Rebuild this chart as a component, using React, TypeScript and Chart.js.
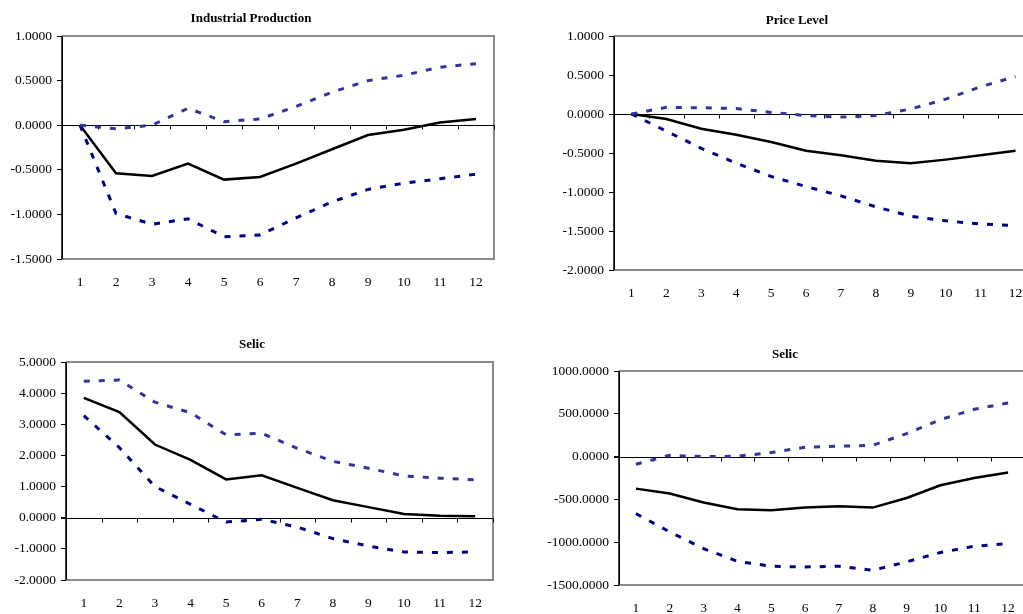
import React, { useEffect, useRef } from "react";
import { Chart, registerables } from "chart.js";

Chart.register(...registerables);

const categories = ["1", "2", "3", "4", "5", "6", "7", "8", "9", "10", "11", "12"];

const ipResponse = [0, -0.54, -0.57, -0.43, -0.61, -0.58, -0.43, -0.27, -0.11, -0.05, 0.03, 0.07];
const ipUpper = [0, -0.04, 0.0, 0.19, 0.04, 0.07, 0.21, 0.37, 0.5, 0.56, 0.65, 0.69];
const ipLower = [0, -0.99, -1.11, -1.05, -1.25, -1.23, -1.04, -0.86, -0.72, -0.65, -0.6, -0.55];

const priceResponse = [0, -0.065, -0.19, -0.265, -0.36, -0.47, -0.53, -0.6, -0.63, -0.585, -0.53, -0.47];
const priceUpper = [0, 0.085, 0.08, 0.07, 0.02, -0.02, -0.04, -0.02, 0.065, 0.19, 0.35, 0.48];
const priceLower = [0, -0.22, -0.44, -0.63, -0.8, -0.93, -1.05, -1.19, -1.31, -1.37, -1.41, -1.43];

const selicResponse = [3.85, 3.39, 2.35, 1.86, 1.23, 1.36, 0.96, 0.56, 0.34, 0.12, 0.06, 0.05];
const selicUpper = [4.38, 4.42, 3.71, 3.37, 2.66, 2.71, 2.23, 1.81, 1.59, 1.34, 1.27, 1.22];
const selicLower = [3.28, 2.25, 1.0, 0.43, -0.14, -0.05, -0.3, -0.67, -0.91, -1.1, -1.12, -1.1];

const selic2Response = [-374, -432, -537, -615, -627, -596, -580, -596, -483, -335, -249, -187];
const selic2Upper = [-90, 16, 0, 4, 47, 109, 121, 132, 269, 432, 553, 627];
const selic2Lower = [-666, -880, -1075, -1223, -1281, -1289, -1281, -1328, -1230, -1121, -1047, -1016];

const titles = ["Industrial Production", "Price Level", "Selic", "Selic"];
const yMins = [-1.5, -2, -2, -1500];
const yMaxs = [1, 1, 5, 1000];
const ySteps = [0.5, 0.5, 1, 500];

const SERIF = '"Liberation Serif", "Times New Roman", serif';

type Panel = {
  title: string;
  response: number[];
  upper: number[];
  lower: number[];
  min: number;
  max: number;
  step: number;
  left: number;
  top: number;
  width: number;
  height: number;
  area: { left: number; top: number; right: number; bottom: number };
  titleX: number;
  titleY: number;
};

const panels: Panel[] = [
  {
    title: titles[0], response: ipResponse, upper: ipUpper, lower: ipLower,
    min: yMins[0], max: yMaxs[0], step: ySteps[0],
    left: 0, top: 0, width: 500, height: 300,
    area: { left: 62, top: 36, right: 494, bottom: 259 },
    titleX: 251, titleY: 19,
  },
  {
    title: titles[1], response: priceResponse, upper: priceUpper, lower: priceLower,
    min: yMins[1], max: yMaxs[1], step: ySteps[1],
    left: 500, top: 0, width: 545, height: 300,
    area: { left: 114, top: 36, right: 533, bottom: 270 },
    titleX: 297, titleY: 21,
  },
  {
    title: titles[2], response: selicResponse, upper: selicUpper, lower: selicLower,
    min: yMins[2], max: yMaxs[2], step: ySteps[2],
    left: 0, top: 300, width: 500, height: 314,
    area: { left: 66, top: 62, right: 493, bottom: 280 },
    titleX: 252, titleY: 45,
  },
  {
    title: titles[3], response: selic2Response, upper: selic2Upper, lower: selic2Lower,
    min: yMins[3], max: yMaxs[3], step: ySteps[3],
    left: 500, top: 300, width: 545, height: 314,
    area: { left: 119, top: 71, right: 525, bottom: 285 },
    titleX: 285, titleY: 55,
  },
];

function PanelChart({ p }: { p: Panel }) {
  const ref = useRef<HTMLCanvasElement | null>(null);
  useEffect(() => {
    if (!ref.current) return;
    const framePlugin = {
      id: "frame",
      beforeDatasetsDraw(chart: any) {
        const { ctx, chartArea } = chart;
        const { left, right, top, bottom } = chartArea;
        const ys = chart.scales.y;
        ctx.save();
        ctx.strokeStyle = "#8a8a8a";
        ctx.lineWidth = 2;
        ctx.beginPath();
        ctx.moveTo(left, top);
        ctx.lineTo(right, top);
        ctx.lineTo(right, bottom);
        ctx.lineTo(left, bottom);
        ctx.stroke();
        const y0 = Math.round(ys.getPixelForValue(0)) + 0.5;
        ctx.strokeStyle = "#000";
        ctx.lineWidth = 1;
        ctx.beginPath();
        ctx.moveTo(left - 5, y0);
        ctx.lineTo(right, y0);
        const n = categories.length;
        for (let i = 0; i <= n; i++) {
          const x = Math.round(left + (i * (right - left)) / n) + 0.5;
          ctx.moveTo(x, y0);
          ctx.lineTo(x, y0 + 4);
        }
        ctx.stroke();
        ctx.lineWidth = 1.5;
        ctx.beginPath();
        ctx.moveTo(left, top);
        ctx.lineTo(left, bottom);
        ctx.stroke();
        ctx.restore();
      },
      afterDraw(chart: any) {
        const { ctx } = chart;
        ctx.save();
        ctx.font = `bold 13px ${SERIF}`;
        ctx.fillStyle = "#000";
        ctx.textAlign = "center";
        ctx.textBaseline = "middle";
        ctx.fillText(p.title, p.titleX, p.titleY);
        ctx.restore();
      },
    };

    const dash = [6, 9];
    const chart = new Chart(ref.current, {
      type: "line",
      data: {
        labels: categories,
        datasets: [
          {
            data: p.upper,
            borderColor: "#333399",
            borderWidth: 3,
            borderDash: dash,
            pointRadius: 0,
            tension: 0,
            fill: false,
          },
          {
            data: p.lower,
            borderColor: "#000080",
            borderWidth: 3,
            borderDash: dash,
            pointRadius: 0,
            tension: 0,
            fill: false,
          },
          {
            data: p.response,
            borderColor: "#000000",
            borderWidth: 2.5,
            pointRadius: 0,
            tension: 0,
            fill: false,
          },
        ],
      },
      options: {
        responsive: false,
        animation: false,
        events: [],
        layout: {
          padding: { left: 0, top: p.area.top, right: p.width - p.area.right, bottom: 0 },
        },
        plugins: {
          legend: { display: false },
          title: { display: false },
          tooltip: { enabled: false },
        },
        scales: {
          x: {
            type: "category",
            offset: true,
            grid: { display: false, drawTicks: false },
            border: { display: false },
            ticks: {
              color: "#000",
              font: { family: SERIF, size: 13.5 },
              padding: 15,
              maxRotation: 0,
              autoSkip: false,
            },
            afterFit(scale: any) {
              scale.height = p.height - p.area.bottom;
              scale.paddingLeft = 0;
              scale.paddingRight = 0;
            },
          },
          y: {
            type: "linear",
            min: p.min,
            max: p.max,
            grid: {
              drawOnChartArea: false,
              drawTicks: true,
              tickLength: 5,
              color: "#000",
            },
            border: { display: true, color: "#000", width: 1 },
            ticks: {
              stepSize: p.step,
              color: "#000",
              padding: 5,
              font: { family: SERIF, size: 13.5 },
              callback: (v: any) => Number(v).toFixed(4),
            },
            afterFit(scale: any) {
              scale.width = p.area.left;
              scale.paddingTop = 0;
              scale.paddingBottom = 0;
            },
          },
        },
      },
      plugins: [framePlugin],
    });
    return () => chart.destroy();
  }, [p]);

  return (
    <canvas
      ref={ref}
      width={p.width}
      height={p.height}
      style={{ position: "absolute", left: p.left, top: p.top, width: p.width, height: p.height }}
    />
  );
}

export default function App() {
  return (
    <div
      style={{
        position: "fixed",
        left: 0,
        top: 0,
        width: 1023,
        height: 614,
        overflow: "hidden",
        background: "#fff",
      }}
    >
      {panels.map((p, i) => (
        <PanelChart key={i} p={p} />
      ))}
    </div>
  );
}
